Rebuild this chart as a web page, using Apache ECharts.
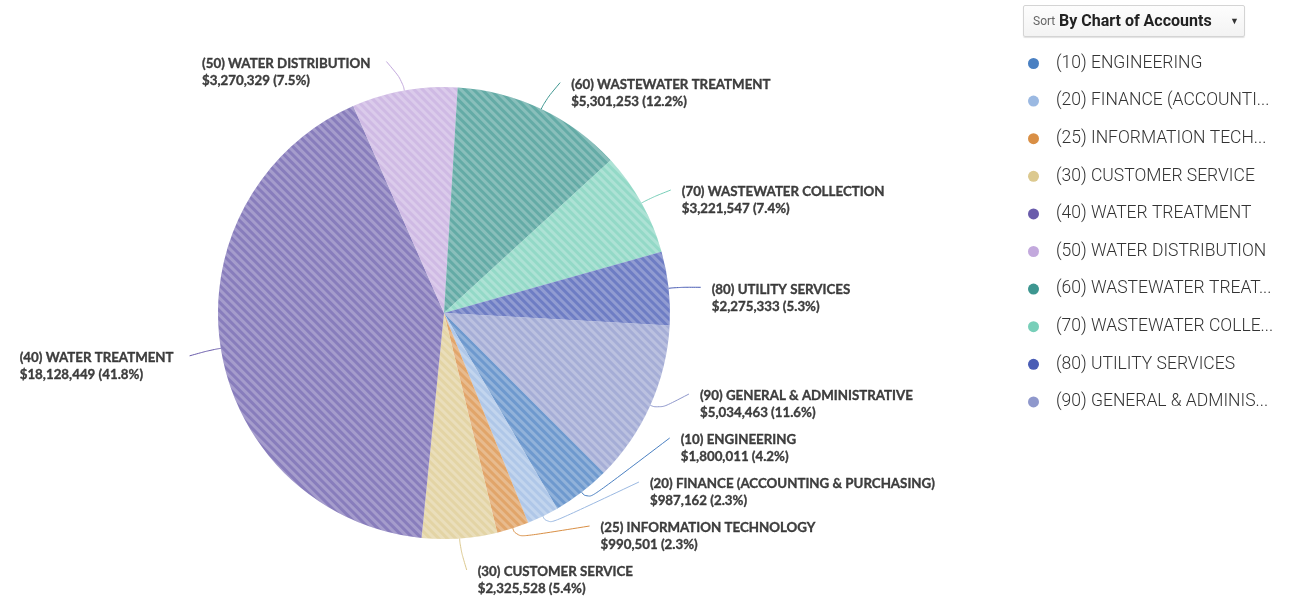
<!DOCTYPE html>
<html>
<head>
<meta charset="utf-8">
<script src="https://cdn.jsdelivr.net/npm/echarts@6/dist/echarts.min.js"></script>
<style>
html, body { margin: 0; padding: 0; background: #fff; }
#chart { width: 1290px; height: 597px; }
.sort-box {
  position: absolute; left: 1023px; top: 5px; width: 222px; height: 32px;
  border: 1px solid #d4d4d4; border-radius: 2px; box-sizing: border-box;
  background: linear-gradient(#fdfdfd, #f3f3f3);
  box-shadow: 0 1px 1px rgba(0,0,0,0.12);
  font-family: Roboto, sans-serif; line-height: 30px; white-space: nowrap;
}
.sort-box .lbl { position: absolute; left: 9px; font-size: 12px; color: #666; }
.sort-box .val { position: absolute; left: 35px; font-size: 16px; font-weight: bold; color: #222; }
.sort-box .arr { position: absolute; left: 206px; font-size: 9px; color: #333; }
</style>
</head>
<body>
<div id="chart"></div>
<div class="sort-box"><span class="lbl">Sort</span><span class="val">By Chart of Accounts</span><span class="arr">&#9660;</span></div>
<script>
// departments in chart-of-accounts order
var categories = [
  '(10) ENGINEERING',
  '(20) FINANCE (ACCOUNTING & PURCHASING)',
  '(25) INFORMATION TECHNOLOGY',
  '(30) CUSTOMER SERVICE',
  '(40) WATER TREATMENT',
  '(50) WATER DISTRIBUTION',
  '(60) WASTEWATER TREATMENT',
  '(70) WASTEWATER COLLECTION',
  '(80) UTILITY SERVICES',
  '(90) GENERAL & ADMINISTRATIVE'
]
var amounts = [1800011, 987162, 990501, 2325528, 18128449, 3270329, 5301253, 3221547, 2275333, 5034463]
var colors = ['#4a80c2', '#9bb9e2', '#d98f45', '#dcc98f', '#6a5cab', '#c3a9dd', '#3d9690', '#78cfb9', '#4a5db5', '#8f98cc']

var total = amounts.reduce(function (a, b) { return a + b }, 0)

var cx = 444, cy = 313, radius = 226
var lineR = 258      // leader lines end on this circle
var slot = 44        // vertical room for one two-line label
var maxLineY = 570   // lowest leader-line end

var labelFont = {
  fontFamily: 'Lato', fontWeight: 'bold', fontSize: 13.3, lineHeight: 17,
  color: '#111', textBorderColor: '#111', textBorderWidth: 0.35, align: 'left'
}

// natural label anchors, filled in by a first layout pass
var edges = []
function recordLayout(p) {
  if (p.labelLinePoints) edges[p.dataIndex] = p.labelLinePoints[0]
  return {}
}

// stack labels on each side: push down from the top, then up from the bottom limit
function computePlaces() {
  var items = edges.map(function (e, i) {
    var dx = (e[0] - cx) / radius, dy = (e[1] - cy) / radius
    return { i: i, dx: dx, dy: dy, right: dx >= 0, y: cy + dy * lineR + 2.5 }
  })
  var places = []
  ;[true, false].forEach(function (side) {
    var list = items.filter(function (it) { return it.right === side })
    list.sort(function (a, b) { return a.y - b.y })
    for (var k = 1; k < list.length; k++) list[k].y = Math.max(list[k].y, list[k - 1].y + slot)
    if (list.length) list[list.length - 1].y = Math.min(list[list.length - 1].y, maxLineY)
    for (k = list.length - 2; k >= 0; k--) list[k].y = Math.min(list[k].y, list[k + 1].y - slot)
    list.forEach(function (it) {
      var h = Math.min(Math.abs(it.y - cy), lineR)
      it.x = cx + (it.right ? 1 : -1) * Math.sqrt(lineR * lineR - h * h)
      places[it.i] = it
    })
  })
  return places
}

function finalLayout(places) {
  return function (p) {
    var it = places[p.dataIndex]
    var e = edges[p.dataIndex]
    if (!it || !e) return {}
    var bend = [e[0] + it.dx * 10, e[1] + it.dy * 10]
    return {
      x: it.right ? it.x + 11 : it.x - 16,
      y: it.y - 6.5,
      align: it.right ? 'left' : 'right',
      verticalAlign: 'top',
      labelLinePoints: [e, bend, [it.x, it.y]]
    }
  }
}

var chart = echarts.init(document.getElementById('chart'))
chart.setOption({
  backgroundColor: '#ffffff',
  animation: false,
  legend: {
    orient: 'vertical',
    left: 1023,
    top: 49.5,
    icon: 'circle',
    itemWidth: 11,
    itemHeight: 11,
    itemGap: 19.6,
    itemStyle: { opacity: 1, decal: 'none' },
    textStyle: {
      fontFamily: 'Roboto',
      fontWeight: 300,
      fontSize: 17.5,
      color: '#333',
      padding: [0, 0, 0, 12],
      width: 221,
      overflow: 'truncate',
      ellipsis: '...'
    },
    data: categories
  },
  series: [{
    type: 'pie',
    center: [cx, cy],
    radius: radius,
    startAngle: -45,
    clockwise: true,
    avoidLabelOverlap: false,
    itemStyle: { opacity: 0.8 },
    label: {
      show: true,
      position: 'outside',
      fontFamily: 'Lato',
      fontWeight: 'bold',
      fontSize: 13.3,
      lineHeight: 17,
      color: '#111',
      formatter: function (p) {
        var pct = (p.value / total * 100).toFixed(1)
        return '{n|' + p.name + '}\n{v|$' + p.value.toLocaleString('en-US') + ' (' + pct + '%)}'
      },
      rich: { n: labelFont, v: labelFont }
    },
    labelLine: {
      show: true,
      length: 28,
      length2: 7,
      smooth: 0.6,
      lineStyle: { width: 1 }
    },
    labelLayout: recordLayout,
    emphasis: { disabled: true },
    data: categories.map(function (c, i) {
      return {
        name: c,
        value: amounts[i],
        itemStyle: {
          color: colors[i],
          decal: {
            symbol: 'rect',
            symbolSize: 1,
            dashArrayX: [1, 0],
            dashArrayY: [3, 3],
            rotation: Math.PI / 4,
            color: 'rgba(255,255,255,0.3)'
          }
        }
      }
    })
  }]
})

chart.setOption({ series: [{ labelLayout: finalLayout(computePlaces()) }] })
</script>
</body>
</html>
